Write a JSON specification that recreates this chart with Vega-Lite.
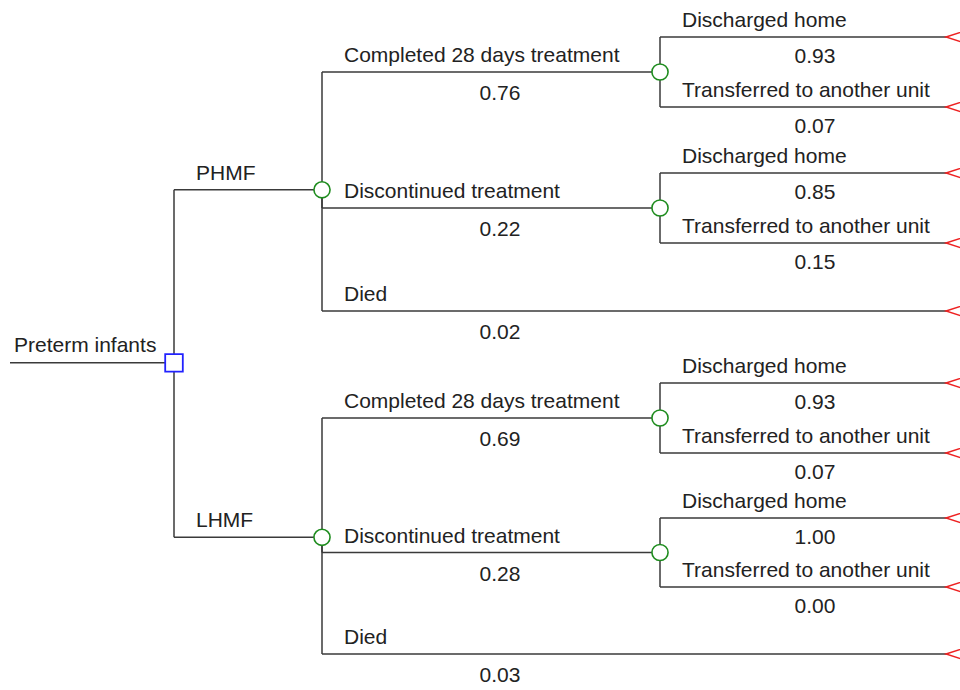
{
  "$schema": "https://vega.github.io/schema/vega-lite/v6.json",
  "width": 960,
  "height": 690,
  "autosize": "none",
  "padding": 0,
  "background": "white",
  "config": {"view": {"stroke": null}, "text": {"font": "Liberation Sans", "fontSize": 21, "color": "#222222"}},
  "data": {
    "values": [
      {"label": "Preterm infants", "type": "decision", "stage": 1, "row": 4.72, "pstage": 0, "prow": 4.72, "prob": null},
      {"label": "PHMF", "type": "chance", "stage": 2, "row": 2.24, "pstage": 1, "prow": 4.72, "prob": null},
      {"label": "LHMF", "type": "chance", "stage": 2, "row": 7.28, "pstage": 1, "prow": 4.72, "prob": null},
      {"label": "Completed 28 days treatment", "type": "chance", "stage": 3, "row": 0.5, "pstage": 2, "prow": 2.24, "prob": 0.76},
      {"label": "Discontinued treatment", "type": "chance", "stage": 3, "row": 2.5, "pstage": 2, "prow": 2.24, "prob": 0.22},
      {"label": "Died", "type": "terminal", "stage": 4, "row": 4, "pstage": 2, "prow": 2.24, "prob": 0.02},
      {"label": "Discharged home", "type": "terminal", "stage": 4, "row": 0, "pstage": 3, "prow": 0.5, "prob": 0.93},
      {"label": "Transferred to another unit", "type": "terminal", "stage": 4, "row": 1, "pstage": 3, "prow": 0.5, "prob": 0.07},
      {"label": "Discharged home", "type": "terminal", "stage": 4, "row": 2, "pstage": 3, "prow": 2.5, "prob": 0.85},
      {"label": "Transferred to another unit", "type": "terminal", "stage": 4, "row": 3, "pstage": 3, "prow": 2.5, "prob": 0.15},
      {"label": "Completed 28 days treatment", "type": "chance", "stage": 3, "row": 5.5, "pstage": 2, "prow": 7.28, "prob": 0.69},
      {"label": "Discontinued treatment", "type": "chance", "stage": 3, "row": 7.5, "pstage": 2, "prow": 7.28, "prob": 0.28},
      {"label": "Died", "type": "terminal", "stage": 4, "row": 9, "pstage": 2, "prow": 7.28, "prob": 0.03},
      {"label": "Discharged home", "type": "terminal", "stage": 4, "row": 5, "pstage": 3, "prow": 5.5, "prob": 0.93},
      {"label": "Transferred to another unit", "type": "terminal", "stage": 4, "row": 6, "pstage": 3, "prow": 5.5, "prob": 0.07},
      {"label": "Discharged home", "type": "terminal", "stage": 4, "row": 7, "pstage": 3, "prow": 7.5, "prob": 1.0},
      {"label": "Transferred to another unit", "type": "terminal", "stage": 4, "row": 8, "pstage": 3, "prow": 7.5, "prob": 0.0}
    ]
  },
  "layer": [
    {
      "mark": {"type": "rule", "stroke": "#3a3a3a", "strokeWidth": 1.5},
      "encoding": {
        "x": {"field": "pstage", "type": "quantitative", "axis": null, "scale": {"type": "linear", "domain": [0, 1, 2, 3, 4], "range": [10, 174, 322, 660, 958], "zero": false, "nice": false}},
        "y": {"field": "prow", "type": "quantitative", "axis": null, "scale": {"type": "linear", "domain": [0, 1, 2, 3, 4, 5, 6, 7, 8, 9], "range": [37, 107, 173, 243, 311, 383, 453, 518, 587, 654], "zero": false, "nice": false}},
        "y2": {"field": "row"}
      }
    },
    {
      "mark": {"type": "rule", "stroke": "#3a3a3a", "strokeWidth": 1.5},
      "encoding": {
        "x": {"field": "pstage", "type": "quantitative", "axis": null, "scale": {"type": "linear", "domain": [0, 1, 2, 3, 4], "range": [10, 174, 322, 660, 958], "zero": false, "nice": false}},
        "x2": {"field": "stage"},
        "y": {"field": "row", "type": "quantitative", "axis": null, "scale": {"type": "linear", "domain": [0, 1, 2, 3, 4, 5, 6, 7, 8, 9], "range": [37, 107, 173, 243, 311, 383, 453, 518, 587, 654], "zero": false, "nice": false}}
      }
    },
    {
      "transform": [{"filter": "datum.type === 'chance'"}],
      "mark": {"type": "point", "shape": "circle", "fill": "white", "stroke": "#1e8c1e", "strokeWidth": 1.6, "size": 260, "opacity": 1, "fillOpacity": 1, "strokeOpacity": 1},
      "encoding": {
        "x": {"field": "stage", "type": "quantitative", "axis": null, "scale": {"type": "linear", "domain": [0, 1, 2, 3, 4], "range": [10, 174, 322, 660, 958], "zero": false, "nice": false}},
        "y": {"field": "row", "type": "quantitative", "axis": null, "scale": {"type": "linear", "domain": [0, 1, 2, 3, 4, 5, 6, 7, 8, 9], "range": [37, 107, 173, 243, 311, 383, 453, 518, 587, 654], "zero": false, "nice": false}}
      }
    },
    {
      "transform": [{"filter": "datum.type === 'decision'"}],
      "mark": {"type": "point", "shape": "square", "fill": "white", "stroke": "#2222ff", "strokeWidth": 1.8, "size": 310, "opacity": 1, "fillOpacity": 1, "strokeOpacity": 1},
      "encoding": {
        "x": {"field": "stage", "type": "quantitative", "axis": null, "scale": {"type": "linear", "domain": [0, 1, 2, 3, 4], "range": [10, 174, 322, 660, 958], "zero": false, "nice": false}},
        "y": {"field": "row", "type": "quantitative", "axis": null, "scale": {"type": "linear", "domain": [0, 1, 2, 3, 4, 5, 6, 7, 8, 9], "range": [37, 107, 173, 243, 311, 383, 453, 518, 587, 654], "zero": false, "nice": false}}
      }
    },
    {
      "transform": [{"filter": "datum.type === 'terminal'"}],
      "mark": {"type": "point", "shape": "M-1,0L1,-0.64L1,0.64Z", "fill": "white", "stroke": "#ee2222", "strokeWidth": 1.4, "size": 576, "opacity": 1, "fillOpacity": 1, "strokeOpacity": 1},
      "encoding": {
        "x": {"field": "stage", "type": "quantitative", "axis": null, "scale": {"type": "linear", "domain": [0, 1, 2, 3, 4], "range": [10, 174, 322, 660, 958], "zero": false, "nice": false}},
        "y": {"field": "row", "type": "quantitative", "axis": null, "scale": {"type": "linear", "domain": [0, 1, 2, 3, 4, 5, 6, 7, 8, 9], "range": [37, 107, 173, 243, 311, 383, 453, 518, 587, 654], "zero": false, "nice": false}}
      }
    },
    {
      "transform": [{"filter": "datum.type !== 'decision'"}],
      "mark": {"type": "text", "align": "left", "baseline": "alphabetic", "dx": 22, "dy": -10},
      "encoding": {
        "x": {"field": "pstage", "type": "quantitative", "axis": null, "scale": {"type": "linear", "domain": [0, 1, 2, 3, 4], "range": [10, 174, 322, 660, 958], "zero": false, "nice": false}},
        "y": {"field": "row", "type": "quantitative", "axis": null, "scale": {"type": "linear", "domain": [0, 1, 2, 3, 4, 5, 6, 7, 8, 9], "range": [37, 107, 173, 243, 311, 383, 453, 518, 587, 654], "zero": false, "nice": false}},
        "text": {"field": "label"}
      }
    },
    {
      "transform": [{"filter": "datum.type === 'decision'"}],
      "mark": {"type": "text", "align": "left", "baseline": "alphabetic", "dx": 4, "dy": -11},
      "encoding": {
        "x": {"field": "pstage", "type": "quantitative", "axis": null, "scale": {"type": "linear", "domain": [0, 1, 2, 3, 4], "range": [10, 174, 322, 660, 958], "zero": false, "nice": false}},
        "y": {"field": "row", "type": "quantitative", "axis": null, "scale": {"type": "linear", "domain": [0, 1, 2, 3, 4, 5, 6, 7, 8, 9], "range": [37, 107, 173, 243, 311, 383, 453, 518, 587, 654], "zero": false, "nice": false}},
        "text": {"field": "label"}
      }
    },
    {
      "transform": [{"filter": "datum.prob !== null && datum.pstage === 2"}],
      "mark": {"type": "text", "align": "center", "baseline": "alphabetic", "dx": 178, "dy": 28},
      "encoding": {
        "x": {"field": "pstage", "type": "quantitative", "axis": null, "scale": {"type": "linear", "domain": [0, 1, 2, 3, 4], "range": [10, 174, 322, 660, 958], "zero": false, "nice": false}},
        "y": {"field": "row", "type": "quantitative", "axis": null, "scale": {"type": "linear", "domain": [0, 1, 2, 3, 4, 5, 6, 7, 8, 9], "range": [37, 107, 173, 243, 311, 383, 453, 518, 587, 654], "zero": false, "nice": false}},
        "text": {"field": "prob", "type": "quantitative", "format": ".2f"}
      }
    },
    {
      "transform": [{"filter": "datum.prob !== null && datum.pstage === 3"}],
      "mark": {"type": "text", "align": "center", "baseline": "alphabetic", "dx": 155, "dy": 26},
      "encoding": {
        "x": {"field": "pstage", "type": "quantitative", "axis": null, "scale": {"type": "linear", "domain": [0, 1, 2, 3, 4], "range": [10, 174, 322, 660, 958], "zero": false, "nice": false}},
        "y": {"field": "row", "type": "quantitative", "axis": null, "scale": {"type": "linear", "domain": [0, 1, 2, 3, 4, 5, 6, 7, 8, 9], "range": [37, 107, 173, 243, 311, 383, 453, 518, 587, 654], "zero": false, "nice": false}},
        "text": {"field": "prob", "type": "quantitative", "format": ".2f"}
      }
    }
  ]
}
